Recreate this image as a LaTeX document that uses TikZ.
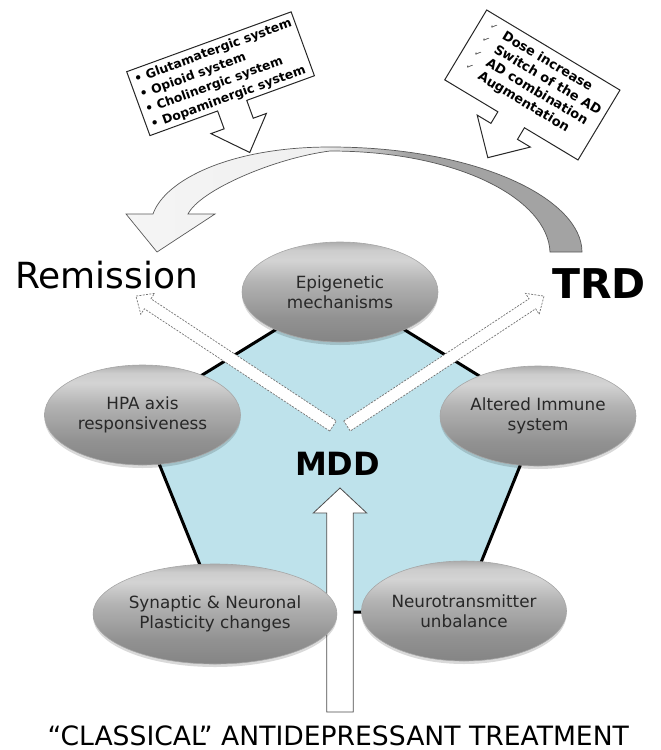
\documentclass[tikz,border=0pt]{standalone}
\usepackage{fontspec}
\setmainfont{DejaVu Sans}
\usetikzlibrary{shapes.geometric,shadows}
\definecolor{pentblue}{RGB}{190,226,235}
\definecolor{elltext}{RGB}{40,40,40}
\pgfdeclareverticalshading{ellshade}{100bp}{color(0bp)=(black!48); color(25bp)=(black!48); color(37bp)=(black!43); color(55bp)=(black!30); color(66bp)=(black!17); color(71bp)=(black!20); color(75bp)=(black!32); color(100bp)=(black!32)}
\pgfdeclarehorizontalshading{arcshade}{100bp}{color(0bp)=(black!4); color(25bp)=(black!4); color(46bp)=(black!6); color(56bp)=(black!36); color(75bp)=(black!36); color(100bp)=(black!36)}
\tikzset{
  ell/.style={ellipse, minimum width=196pt, minimum height=100pt, inner sep=0pt,
    shade, shading=ellshade, draw=black!35, line width=0.6pt, align=center,
    text=elltext, font=\fontsize{16.8}{20}\selectfont,
    drop shadow={shadow xshift=0pt, shadow yshift=-3pt, opacity=0.15, fill=black}},
  callout/.style={draw=black!85, line width=1pt, fill=white, line join=miter},
  dasharrow/.style={draw=black!55, dash pattern=on 2pt off 1.3pt, line width=0.7pt, fill=white},
  bigarrow/.style={draw=black!70, line width=0.8pt, fill=white},
  arcarrow/.style={draw=black!65, line width=0.7pt, shade, shading=arcshade},
  pent/.style={fill=pentblue, draw=black, line width=3pt, line join=miter},
  lbl/.style={inner sep=0pt, text=black}
}
\begin{document}
\begin{tikzpicture}[x=1pt,y=-1pt]
\useasboundingbox (0,0) rectangle (661,750);

% left callout
\begin{scope}[shift={(126.7,71.7)}, rotate=20]
  \draw[callout] (0,0) -- (175,0) -- (175,68) -- (103,68) -- (103,87) -- (117,87) -- (88,118) -- (58,87) -- (72,87) -- (72,68) -- (0,68) -- cycle;
  \node[transform shape, lbl, font=\bfseries\fontsize{12.4}{16.2}\selectfont, align=left] (cL) at (88,35)
    {• Glutamatergic system\\• Opioid system\\• Cholinergic system\\• Dopaminergic system};
\end{scope}

% right callout
\begin{scope}[shift={(486.7,10)}, rotate=-31]
  \draw[callout] (0,0) -- (155.5,0) -- (155.5,81.5) -- (93,81.5) -- (93,95) -- (108,95) -- (77,126) -- (46,95) -- (62,95) -- (62,81.5) -- (0,81.5) -- cycle;
  \node[transform shape, lbl, anchor=west, font=\bfseries\fontsize{13}{15.7}\selectfont, align=left] (cR) at (27,37)
    {Dose increase\\Switch of the AD\\AD combination\\Augmentation};
  \node[transform shape, lbl, anchor=west, text=black!75, font=\fontsize{9}{15.7}\selectfont, align=left] (ck) at (11,34)
    {✓\\✓\\✓\\✓};
\end{scope}

% curved arrow TRD -> Remission
\coordinate (arcStartO) at (582,252);
\coordinate (arcStartI) at (550,252);
\coordinate (arcTip) at (157,252);
\path[arcarrow] (arcStartO) .. controls (582,200) and (480,147) .. (330,147)
   .. controls (230,147) and (165,180) .. (153,214) -- (126,214) -- (arcTip) -- (215,214) -- (188,214)
   .. controls (200,190) and (275,158) .. (330,151)
   .. controls (460,151) and (548,200) .. (arcStartI) -- cycle;

% pentagon
\coordinate (pA) at (340,290);
\coordinate (pR) at (541,414);
\coordinate (pBR) at (461,612);
\coordinate (pBL) at (219,612);
\coordinate (pL) at (139,414);
\draw[pent] (pA) -- (pR) -- (pBR) -- (pBL) -- (pL) -- cycle;

% dashed arrows from MDD
\coordinate (sL) at (333,426);
\coordinate (sR) at (347,426);
\begin{scope}[shift={(sL)}, rotate=146.6]
  \draw[dasharrow] (0,-6) -- (222,-6) -- (222,-12.5) -- (236,0) -- (222,12.5) -- (222,6) -- (0,6) -- cycle;
\end{scope}
\begin{scope}[shift={(sR)}, rotate=33.4]
  \draw[dasharrow] (0,-6) -- (222,-6) -- (222,-12.5) -- (236,0) -- (222,12.5) -- (222,6) -- (0,6) -- cycle;
\end{scope}

% vertical arrow
\coordinate (vTip) at (340,488);
\coordinate (vBot) at (340,712);
\draw[bigarrow] (326.7,712) -- (326.7,513) -- (313.3,513) -- (vTip) -- (366.7,513) -- (353.3,513) -- (353.3,712) -- cycle;

% ellipses
\node[ell] (epi) at (340,292) {Epigenetic\\mechanisms};
\node[ell] (hpa) at (142.5,415) {HPA axis\\responsiveness};
\node[ell] (imm) at (538,416) {Altered Immune\\system};
\node[ell] (syn) at (215,614) {Synaptic \& Neuronal\\Plasticity changes};
\node[ell] (neu) at (464,611) {Neurotransmitter\\unbalance};

% labels
\node[lbl, anchor=base west, font=\fontsize{36}{36}\selectfont] (rem) at (15,288.3) {Remission};
\node[lbl, anchor=base, font=\bfseries\fontsize{41}{41}\selectfont] (trd) at (599,298.3) {TRD};
\node[lbl, anchor=base, font=\bfseries\fontsize{32}{32}\selectfont] (mdd) at (337.5,475) {MDD};
\node[lbl, anchor=base, font=\fontsize{26.6}{26.6}\selectfont] (cls) at (338.3,745) {“CLASSICAL” ANTIDEPRESSANT TREATMENT};
\end{tikzpicture}
\end{document}
